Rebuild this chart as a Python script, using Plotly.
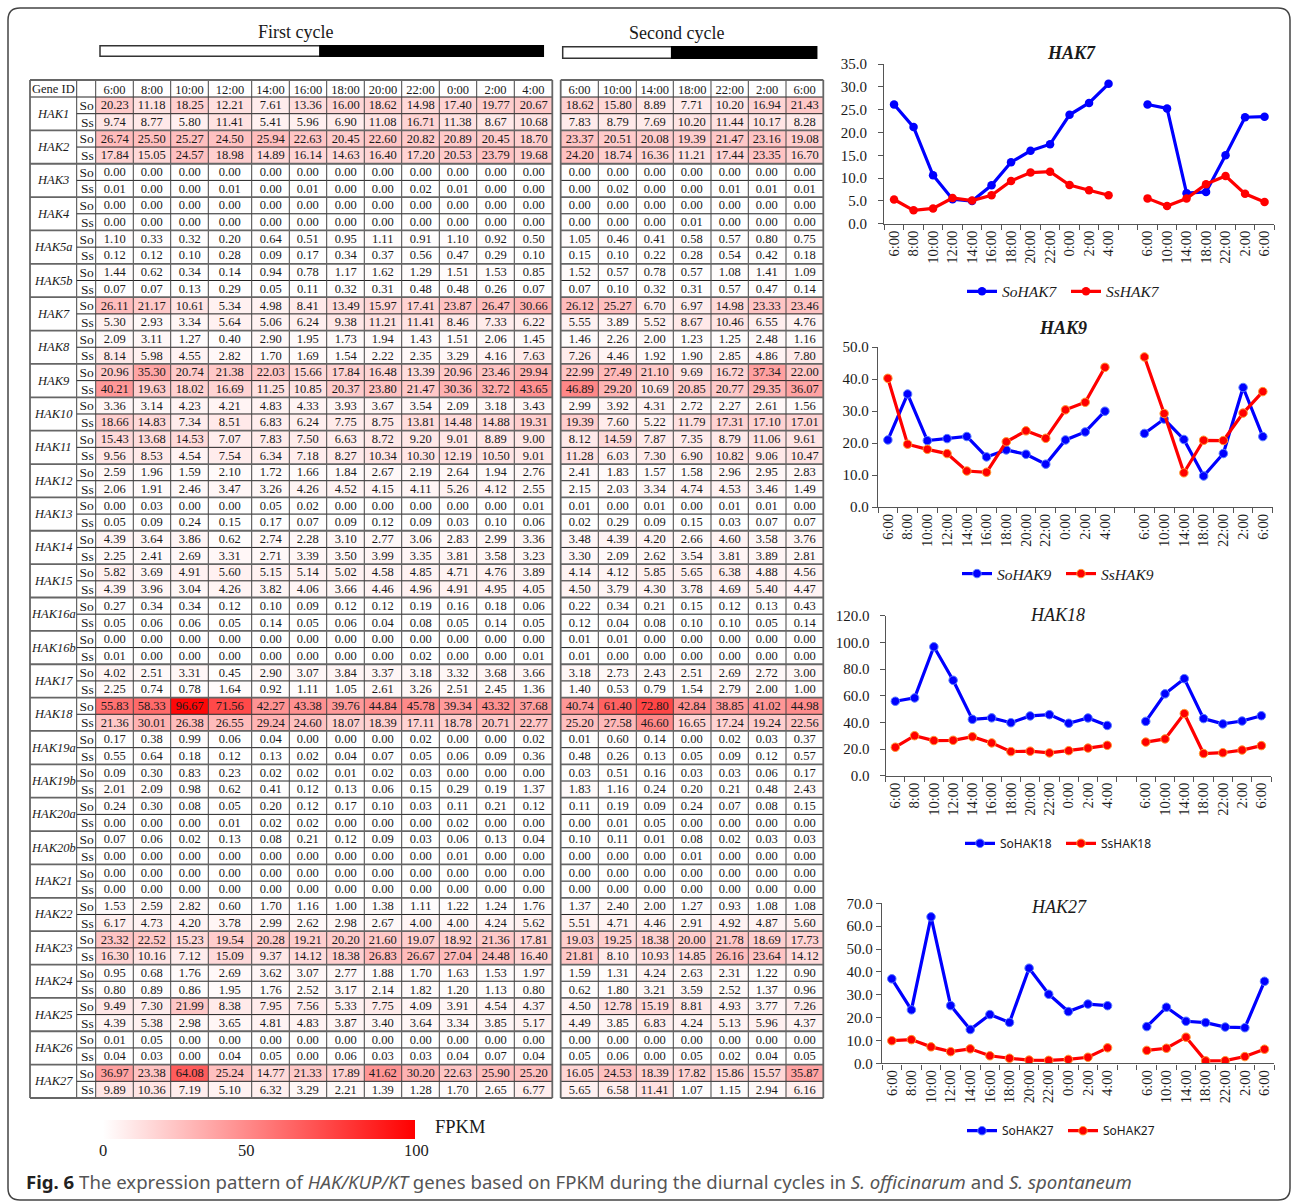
import plotly.graph_objects as go

W, H = 1295, 1202
SERIF = "Liberation Serif"
SANS = "Noto Sans"

TIME_FIRST = ["6:00","8:00","10:00","12:00","14:00","16:00","18:00","20:00","22:00","0:00","2:00","4:00"]
TIME_SECOND = ["6:00","10:00","14:00","18:00","22:00","2:00","6:00"]
GENES = ["HAK1","HAK2","HAK3","HAK4","HAK5a","HAK5b","HAK7","HAK8","HAK9","HAK10","HAK11","HAK12","HAK13","HAK14","HAK15",
         "HAK16a","HAK16b","HAK17","HAK18","HAK19a","HAK19b","HAK20a","HAK20b","HAK21","HAK22","HAK23","HAK24","HAK25","HAK26","HAK27"]

HAK1_So = [20.23,11.18,18.25,12.21,7.61,13.36,16.00,18.62,14.98,17.40,19.77,20.67, 18.62,15.80,8.89,7.71,10.20,16.94,21.43]
HAK1_Ss = [9.74,8.77,5.80,11.41,5.41,5.96,6.90,11.08,16.71,11.38,8.67,10.68, 7.83,8.79,7.69,10.20,11.44,10.17,8.28]
HAK2_So = [26.74,25.50,25.27,24.50,25.94,22.63,20.45,22.60,20.82,20.89,20.45,18.70, 23.37,20.51,20.08,19.39,21.47,23.16,19.08]
HAK2_Ss = [17.84,15.05,24.57,18.98,14.89,16.14,14.63,16.40,17.20,20.53,23.79,19.68, 24.20,18.74,16.36,11.21,17.44,23.35,16.70]
HAK3_So = [0,0,0,0,0,0,0,0,0,0,0,0, 0,0,0,0,0,0,0]
HAK3_Ss = [0.01,0,0,0.01,0,0.01,0,0,0.02,0.01,0,0, 0,0.02,0,0,0.01,0.01,0.01]
HAK4_So = [0,0,0,0,0,0,0,0,0,0,0,0, 0,0,0,0,0,0,0]
HAK4_Ss = [0,0,0,0,0,0,0,0,0,0,0,0, 0,0,0,0.01,0,0,0]
HAK5a_So = [1.10,0.33,0.32,0.20,0.64,0.51,0.95,1.11,0.91,1.10,0.92,0.50, 1.05,0.46,0.41,0.58,0.57,0.80,0.75]
HAK5a_Ss = [0.12,0.12,0.10,0.28,0.09,0.17,0.34,0.37,0.56,0.47,0.29,0.10, 0.15,0.10,0.22,0.28,0.54,0.42,0.18]
HAK5b_So = [1.44,0.62,0.34,0.14,0.94,0.78,1.17,1.62,1.29,1.51,1.53,0.85, 1.52,0.57,0.78,0.57,1.08,1.41,1.09]
HAK5b_Ss = [0.07,0.07,0.13,0.29,0.05,0.11,0.32,0.31,0.48,0.48,0.26,0.07, 0.07,0.10,0.32,0.31,0.57,0.47,0.14]
HAK7_So = [26.11,21.17,10.61,5.34,4.98,8.41,13.49,15.97,17.41,23.87,26.47,30.66, 26.12,25.27,6.70,6.97,14.98,23.33,23.46]
HAK7_Ss = [5.30,2.93,3.34,5.64,5.06,6.24,9.38,11.21,11.41,8.46,7.33,6.22, 5.55,3.89,5.52,8.67,10.46,6.55,4.76]
HAK8_So = [2.09,3.11,1.27,0.40,2.90,1.95,1.73,1.94,1.43,1.51,2.06,1.45, 1.46,2.26,2.00,1.23,1.25,2.48,1.16]
HAK8_Ss = [8.14,5.98,4.55,2.82,1.70,1.69,1.54,2.22,2.35,3.29,4.16,7.63, 7.26,4.46,1.92,1.90,2.85,4.86,7.80]
HAK9_So = [20.96,35.30,20.74,21.38,22.03,15.66,17.84,16.48,13.39,20.96,23.46,29.94, 22.99,27.49,21.10,9.69,16.72,37.34,22.00]
HAK9_Ss = [40.21,19.63,18.02,16.69,11.25,10.85,20.37,23.80,21.47,30.36,32.72,43.65, 46.89,29.20,10.69,20.85,20.77,29.35,36.07]
HAK10_So = [3.36,3.14,4.23,4.21,4.83,4.33,3.93,3.67,3.54,2.09,3.18,3.43, 2.99,3.92,4.31,2.72,2.27,2.61,1.56]
HAK10_Ss = [18.66,14.83,7.34,8.51,6.83,6.24,7.75,8.75,13.81,14.48,14.88,19.31, 19.39,7.60,5.22,11.79,17.31,17.10,17.01]
HAK11_So = [15.43,13.68,14.53,7.07,7.83,7.50,6.63,8.72,9.20,9.01,8.89,9.00, 8.12,14.59,7.87,7.35,8.79,11.06,9.61]
HAK11_Ss = [9.56,8.53,4.54,7.54,6.34,7.18,8.27,10.34,10.30,12.19,10.50,9.01, 11.28,6.03,7.30,6.90,10.82,9.06,10.47]
HAK12_So = [2.59,1.96,1.59,2.10,1.72,1.66,1.84,2.67,2.19,2.64,1.94,2.76, 2.41,1.83,1.57,1.58,2.96,2.95,2.83]
HAK12_Ss = [2.06,1.91,2.46,3.47,3.26,4.26,4.52,4.15,4.11,5.26,4.12,2.55, 2.15,2.03,3.34,4.74,4.53,3.46,1.49]
HAK13_So = [0,0.03,0,0,0.05,0.02,0,0,0,0,0,0.01, 0.01,0,0.01,0,0.01,0.01,0]
HAK13_Ss = [0.05,0.09,0.24,0.15,0.17,0.07,0.09,0.12,0.09,0.03,0.10,0.06, 0.02,0.29,0.09,0.15,0.03,0.07,0.07]
HAK14_So = [4.39,3.64,3.86,0.62,2.74,2.28,3.10,2.77,3.06,2.83,2.99,3.36, 3.48,4.39,4.20,2.66,4.60,3.58,3.76]
HAK14_Ss = [2.25,2.41,2.69,3.31,2.71,3.39,3.50,3.99,3.35,3.81,3.58,3.23, 3.30,2.09,2.62,3.54,3.81,3.89,2.81]
HAK15_So = [5.82,3.69,4.91,5.60,5.15,5.14,5.02,4.58,4.85,4.71,4.76,3.89, 4.14,4.12,5.85,5.65,6.38,4.88,4.56]
HAK15_Ss = [4.39,3.96,3.04,4.26,3.82,4.06,3.66,4.46,4.96,4.91,4.95,4.05, 4.50,3.79,4.30,3.78,4.69,5.40,4.47]
HAK16a_So = [0.27,0.34,0.34,0.12,0.10,0.09,0.12,0.12,0.19,0.16,0.18,0.06, 0.22,0.34,0.21,0.15,0.12,0.13,0.43]
HAK16a_Ss = [0.05,0.06,0.06,0.05,0.14,0.05,0.06,0.04,0.08,0.05,0.14,0.05, 0.12,0.04,0.08,0.10,0.10,0.05,0.14]
HAK16b_So = [0,0,0,0,0,0,0,0,0,0,0,0, 0.01,0.01,0,0,0,0,0]
HAK16b_Ss = [0.01,0,0,0,0,0,0,0,0.02,0,0,0.01, 0.01,0,0,0,0,0,0]
HAK17_So = [4.02,2.51,3.31,0.45,2.90,3.07,3.84,3.37,3.18,3.32,3.68,3.66, 3.18,2.73,2.43,2.51,2.69,2.72,3.00]
HAK17_Ss = [2.25,0.74,0.78,1.64,0.92,1.11,1.05,2.61,3.26,2.51,2.45,1.36, 1.40,0.53,0.79,1.54,2.79,2.00,1.00]
HAK18_So = [55.83,58.33,96.67,71.56,42.27,43.38,39.76,44.84,45.78,39.34,43.32,37.68, 40.74,61.40,72.80,42.84,38.85,41.02,44.98]
HAK18_Ss = [21.36,30.01,26.38,26.55,29.24,24.60,18.07,18.39,17.11,18.78,20.71,22.77, 25.20,27.58,46.60,16.65,17.24,19.24,22.56]
HAK19a_So = [0.17,0.38,0.99,0.06,0.04,0,0,0,0.02,0,0,0.02, 0.01,0.60,0.14,0,0.02,0.03,0.37]
HAK19a_Ss = [0.55,0.64,0.18,0.12,0.13,0.02,0.04,0.07,0.05,0.06,0.09,0.36, 0.48,0.26,0.13,0.05,0.09,0.12,0.57]
HAK19b_So = [0.09,0.30,0.83,0.23,0.02,0.02,0.01,0.02,0.03,0,0,0, 0.03,0.51,0.16,0.03,0.03,0.06,0.17]
HAK19b_Ss = [2.01,2.09,0.98,0.62,0.41,0.12,0.13,0.06,0.15,0.29,0.19,1.37, 1.83,1.16,0.24,0.20,0.21,0.48,2.43]
HAK20a_So = [0.24,0.30,0.08,0.05,0.20,0.12,0.17,0.10,0.03,0.11,0.21,0.12, 0.11,0.19,0.09,0.24,0.07,0.08,0.15]
HAK20a_Ss = [0,0,0,0.01,0.02,0.02,0,0,0,0.02,0,0, 0,0.01,0.05,0,0,0,0]
HAK20b_So = [0.07,0.06,0.02,0.13,0.08,0.21,0.12,0.09,0.03,0.06,0.13,0.04, 0.10,0.11,0.01,0.08,0.02,0.03,0.03]
HAK20b_Ss = [0,0,0,0,0,0,0,0,0,0.01,0,0, 0,0,0,0.01,0,0,0]
HAK21_So = [0,0,0,0,0,0,0,0,0,0,0,0, 0,0,0,0,0,0,0]
HAK21_Ss = [0,0,0,0,0,0,0,0,0,0,0,0, 0,0,0,0,0,0,0]
HAK22_So = [1.53,2.59,2.82,0.60,1.70,1.16,1.00,1.38,1.11,1.22,1.24,1.76, 1.37,2.40,2.00,1.27,0.93,1.08,1.08]
HAK22_Ss = [6.17,4.73,4.20,3.78,2.99,2.62,2.98,2.67,4.00,4.00,4.24,5.62, 5.51,4.71,4.46,2.91,4.92,4.87,5.60]
HAK23_So = [23.32,22.52,15.23,19.54,20.28,19.21,20.20,21.60,19.07,18.92,21.36,17.81, 19.03,19.25,18.38,20.00,21.78,18.69,17.73]
HAK23_Ss = [16.30,10.16,7.12,15.09,9.37,14.12,18.38,26.83,26.67,27.04,24.48,16.40, 21.81,8.10,10.93,14.85,26.16,23.64,14.12]
HAK24_So = [0.95,0.68,1.76,2.69,3.62,3.07,2.77,1.88,1.70,1.63,1.53,1.97, 1.59,1.31,4.24,2.63,2.31,1.22,0.90]
HAK24_Ss = [0.80,0.89,0.86,1.95,1.76,2.52,3.17,2.14,1.82,1.20,1.13,0.80, 0.62,1.80,3.21,3.59,2.52,1.37,0.96]
HAK25_So = [9.49,7.30,21.99,8.38,7.95,7.56,5.33,7.75,4.09,3.91,4.54,4.37, 4.50,12.78,15.19,8.81,4.93,3.77,7.26]
HAK25_Ss = [4.39,5.38,2.98,3.65,4.81,4.83,3.87,3.40,3.64,3.34,3.85,5.17, 4.49,3.85,6.83,4.24,5.13,5.96,4.37]
HAK26_So = [0.01,0.05,0,0,0,0,0,0,0,0,0,0, 0,0,0,0,0,0,0]
HAK26_Ss = [0.04,0.03,0,0.04,0.05,0,0.06,0.03,0.03,0.04,0.07,0.04, 0.05,0.06,0,0.05,0.02,0.04,0.05]
HAK27_So = [36.97,23.38,64.08,25.24,14.77,21.33,17.89,41.62,30.20,22.63,25.90,25.20, 16.05,24.53,18.39,17.82,15.86,15.57,35.87]
HAK27_Ss = [9.89,10.36,7.19,5.10,6.32,3.29,2.21,1.39,1.28,1.70,2.65,6.77, 5.65,6.58,11.41,1.07,1.15,2.94,6.16]

ns = globals()
ROWS = []
ROW_LABELS = []
for g in GENES:
    ROWS += [ns[g + "_So"], ns[g + "_Ss"]]
    ROW_LABELS += ["So", "Ss"]

# ---------- layout geometry (pixels) ----------
def px(x): return x / W
def py(y): return 1 - y / H

T1_EDGES = [95.7,133.3,170.7,208.3,251.7,289.3,326.7,364.3,401.7,439.3,476.7,514.3,552.3]
T2_EDGES = [560.7,598.3,636.3,673.3,711,748.3,786,823.3]
ID_EDGES = [30, 76.7, 95.7]
T_TOP, T_HEAD, T_BOT = 80, 97, 1098
ROW_H = (T_BOT - T_HEAD) / len(ROWS)

fig = go.Figure()
colorscale = [[0, "#FFFFFF"], [1, "#FF0000"]]
row_idx = list(range(len(ROWS)))

def table(edges, start, stop, xa, ya, show):
    z = [r[start:stop] for r in ROWS]
    txt = [[f"{v:.2f}" for v in r] for r in z]
    fig.add_trace(go.Heatmap(
        z=z, x=edges, y=row_idx, text=txt, texttemplate="%{text}",
        textfont=dict(family=SERIF, size=12.5, color="#1a1a1a"),
        colorscale=colorscale, zmin=0, zmax=100, xaxis=xa, yaxis=ya, showscale=show, hoverinfo="skip",
        colorbar=dict(orientation="h", x=px(103), xanchor="left", xref="paper", y=py(1139), yanchor="bottom", yref="paper",
                      len=312, lenmode="pixels", thickness=19, thicknessmode="pixels", xpad=0, ypad=0,
                      outlinewidth=0, ticks="", showticklabels=False),
    ))

table(T1_EDGES, 0, 12, "x", "y", True)
table(T2_EDGES, 12, 19, "x2", "y2", False)

def centers(e): return [(a + b) / 2 for a, b in zip(e[:-1], e[1:])]

layout = dict(
    width=W, height=H, margin=dict(l=0, r=0, t=0, b=0, autoexpand=False), paper_bgcolor="white", plot_bgcolor="rgba(0,0,0,0)",
    font=dict(family=SERIF, color="#1a1a1a"), hovermode=False,
    xaxis=dict(domain=[px(T1_EDGES[0]), px(T1_EDGES[-1])], range=[T1_EDGES[0], T1_EDGES[-1]], side="top", showgrid=False, zeroline=False,
               tickvals=centers(T1_EDGES), ticktext=TIME_FIRST, ticks="", tickfont=dict(size=12.5), anchor="y"),
    yaxis=dict(domain=[py(T_BOT), py(T_HEAD)], range=[len(ROWS) - .5, -.5], showgrid=False, zeroline=False,
               tickvals=row_idx, ticktext=ROW_LABELS, ticks="", tickfont=dict(size=13.5), anchor="x", ticklabelstandoff=1),
    xaxis2=dict(domain=[px(T2_EDGES[0]), px(T2_EDGES[-1])], range=[T2_EDGES[0], T2_EDGES[-1]], side="top", showgrid=False, zeroline=False,
                tickvals=centers(T2_EDGES), ticktext=TIME_SECOND, ticks="", tickfont=dict(size=12.5), anchor="y2"),
    yaxis2=dict(domain=[py(T_BOT), py(T_HEAD)], range=[len(ROWS) - .5, -.5], showgrid=False, zeroline=False,
                showticklabels=False, ticks="", anchor="x2"),
)

# ---------- line panels ----------
SLOT_LABELS = TIME_FIRST + [""] + TIME_SECOND
SLOTS = list(range(len(SLOT_LABELS)))
BLUE, RED = "#0000FF", "#FF0000"
PANELS = [
    dict(gene="HAK7", ymax=35, dtick=5, box=(884.3, 1274.3, 64, 223.7), title=(1071, 53.3), bold=True, legend=(962, 1066, 291.7), edge=False, standoff=8, leg_font=(SERIF, 15.5, "italic"), names=("SoHAK7", "SsHAK7")),
    dict(gene="HAK9", ymax=50, dtick=10, box=(878, 1272.7, 347, 507), title=(1062.7, 328), bold=True, legend=(957, 1061, 574), edge=True, standoff=0, leg_font=(SERIF, 15.5, "italic"), names=("SoHAK9", "SsHAK9")),
    dict(gene="HAK18", ymax=120, dtick=20, box=(885.7, 1271, 615.7, 775.7), title=(1057.7, 615), bold=False, legend=(960, 1061, 843.3), edge=True, standoff=7, leg_font=(SANS, 12, "normal"), names=("SoHAK18", "SsHAK18")),
    dict(gene="HAK27", ymax=70, dtick=10, box=(882, 1274.3, 903.3, 1063.3), title=(1059, 906.7), bold=False, legend=(962, 1063, 1130.7), edge=True, standoff=0, leg_font=(SANS, 12, "normal"), names=("SoHAK27", "SoHAK27")),
]
annotations = []
def note(x, y, text, size, xanchor="center", color="#1a1a1a", family=SERIF, style="normal", weight="normal"):
    annotations.append(dict(x=px(x), y=py(y), xref="paper", yref="paper", text=text, showarrow=False, xanchor=xanchor, yanchor="middle",
                            font=dict(family=family, size=size, color=color, style=style, weight=weight)))

for i, p in enumerate(PANELS):
    n = i + 3
    xa, ya = f"x{n}", f"y{n}"
    l, r, t, b = p["box"]
    lg = "legend" if i == 0 else f"legend{i + 1}"
    so = ns[p["gene"] + "_So"]
    ss = ns[p["gene"] + "_Ss"]
    for vals, col, edge, name in ((so, BLUE, "#5a7dff", p["names"][0]), (ss, RED, "#ff9a30", p["names"][1])):
        y = vals[:12] + [None] + vals[12:]
        fig.add_trace(go.Scatter(x=SLOTS, y=y, mode="lines+markers", name=name, xaxis=xa, yaxis=ya, legend=lg,
                                 line=dict(color=col, width=3.2),
                                 marker=dict(color=col, size=8.5, line=dict(color=edge if p["edge"] else col, width=1 if p["edge"] else 0)),
                                 hoverinfo="skip"))
    axis_line = dict(showline=True, linecolor="#555555", linewidth=1.4, showgrid=False, zeroline=False)
    layout[f"xaxis{n}"] = dict(domain=[px(l), px(r)], range=[-.5, len(SLOTS) - .5], anchor=ya, tickmode="array",
                               tickvals=SLOTS, ticktext=SLOT_LABELS, ticks="", tickangle=-90, tickfont=dict(size=14.5),
                               minor=dict(tickmode="array", tickvals=[s - .5 for s in SLOTS] + [SLOTS[-1] + .5], ticks="outside", ticklen=5,
                                          tickcolor="#555555", tickwidth=1, showgrid=False),
                               **axis_line)
    layout[f"yaxis{n}"] = dict(domain=[py(b), py(t)], range=[0, p["ymax"]], anchor=xa, dtick=p["dtick"], tick0=0, tickformat=".1f",
                               ticks="outside", ticklen=5, tickcolor="#555555", tickwidth=1, tickfont=dict(size=15),
                               ticklabelstandoff=p["standoff"], **axis_line)
    fam, sz, sty = p["leg_font"]
    layout[lg] = dict(x=px(p["legend"][0]), xanchor="left", y=py(p["legend"][2]), yanchor="middle", orientation="h",
                      font=dict(family=fam, size=sz, style=sty, color="#1a1a1a"), bgcolor="rgba(0,0,0,0)", borderwidth=0,
                      entrywidth=p["legend"][1] - p["legend"][0] - 45, entrywidthmode="pixels", itemclick=False, itemdoubleclick=False)
    note(p["title"][0], p["title"][1], p["gene"], 18, style="italic", weight="bold" if p["bold"] else "normal")

# ---------- table decoration ----------
for k, g in enumerate(GENES):
    note((ID_EDGES[0] + ID_EDGES[1]) / 2, T_HEAD + ROW_H * (2 * k + 1), g, 12.5, style="italic")
note((ID_EDGES[0] + ID_EDGES[1]) / 2, (T_TOP + T_HEAD) / 2, "Gene ID", 12.5)
note(295.7, 31.7, "First cycle", 18)
note(676, 33.3, "Second cycle", 18)
note(433, 1127, "FPKM", 18.5, xanchor="left")
for x, t in ((102.6, "0"), (246.8, "50"), (416.4, "100")):
    note(x, 1150, t, 16.5)
note(24, 1181,
     '<span style="color:#222222"><b>Fig. 6</b></span> The expression pattern of <i>HAK/KUP/KT</i> genes based on FPKM during the diurnal cycles in '
     '<i>S. officinarum</i> and <i>S. spontaneum</i>', 18.6, xanchor="left", color="#555555", family=SANS)
layout["annotations"] = annotations

def P(x, y): return f"{px(x):.5f},{py(y):.5f}"
def seg(x0, y0, x1, y1): return f"M{P(x0, y0)} L{P(x1, y1)} "
def line_shape(path, color, width):
    return dict(type="path", xref="paper", yref="paper", path=path, line=dict(color=color, width=width), fillcolor="rgba(0,0,0,0)", layer="above")
def rect_shape(x0, y0, x1, y1, fill, lc="#333333", lw=1.5):
    return dict(type="rect", xref="paper", yref="paper", x0=px(x0), x1=px(x1), y0=py(y0), y1=py(y1), fillcolor=fill, line=dict(color=lc, width=lw), layer="above")

thin = thick = outer = ""
x_ranges = [(ID_EDGES[0], T1_EDGES[-1]), (T2_EDGES[0], T2_EDGES[-1])]
for x0, x1 in x_ranges:
    thin += seg(x0, T_HEAD, x1, T_HEAD)
    for k in range(len(ROWS) + 1):
        y = T_HEAD + k * ROW_H
        if k % 2:
            thin += seg(ID_EDGES[1] if x0 == ID_EDGES[0] else x0, y, x1, y)
        elif 0 < k < len(ROWS):
            thick += seg(x0, y, x1, y)
    outer += seg(x0, T_TOP, x1, T_TOP) + seg(x0, T_TOP, x0, T_BOT) + seg(x1, T_TOP, x1, T_BOT) + seg(x0, T_BOT, x1, T_BOT)
verts = ""
for x in ID_EDGES[1:] + T1_EDGES[1:-1] + T2_EDGES[1:-1]:
    verts += seg(x, T_TOP, x, T_BOT)
FX0, FY0, FX1, FY1, R = 8, 8, 1290, 1200, 12
frame = (f"M{P(FX0 + R, FY0)} L{P(FX1 - R, FY0)} Q{P(FX1, FY0)} {P(FX1, FY0 + R)} L{P(FX1, FY1 - R)} Q{P(FX1, FY1)} {P(FX1 - R, FY1)} "
         f"L{P(FX0 + R, FY1)} Q{P(FX0, FY1)} {P(FX0, FY1 - R)} L{P(FX0, FY0 + R)} Q{P(FX0, FY0)} {P(FX0 + R, FY0)} Z")
layout["shapes"] = [
    line_shape(frame, "#444444", 1.5),
    line_shape(thin, "#222222", 1),
    line_shape(verts, "#444444", 1),
    line_shape(thick, "#666666", 1.8),
    line_shape(outer, "#666666", 1.8),
    rect_shape(100, 45.7, 320, 56.3, "white"),
    rect_shape(320, 45.7, 543.3, 56.3, "black", "black"),
    rect_shape(562.7, 46.7, 671.7, 58.3, "white"),
    rect_shape(671.7, 46.7, 816.7, 58.3, "black", "black"),
]

fig.update_layout(**layout)
fig.write_html("out.html", config={"displayModeBar": False},
               post_script="document.body.style.margin='0';document.documentElement.style.overflow='hidden';")
